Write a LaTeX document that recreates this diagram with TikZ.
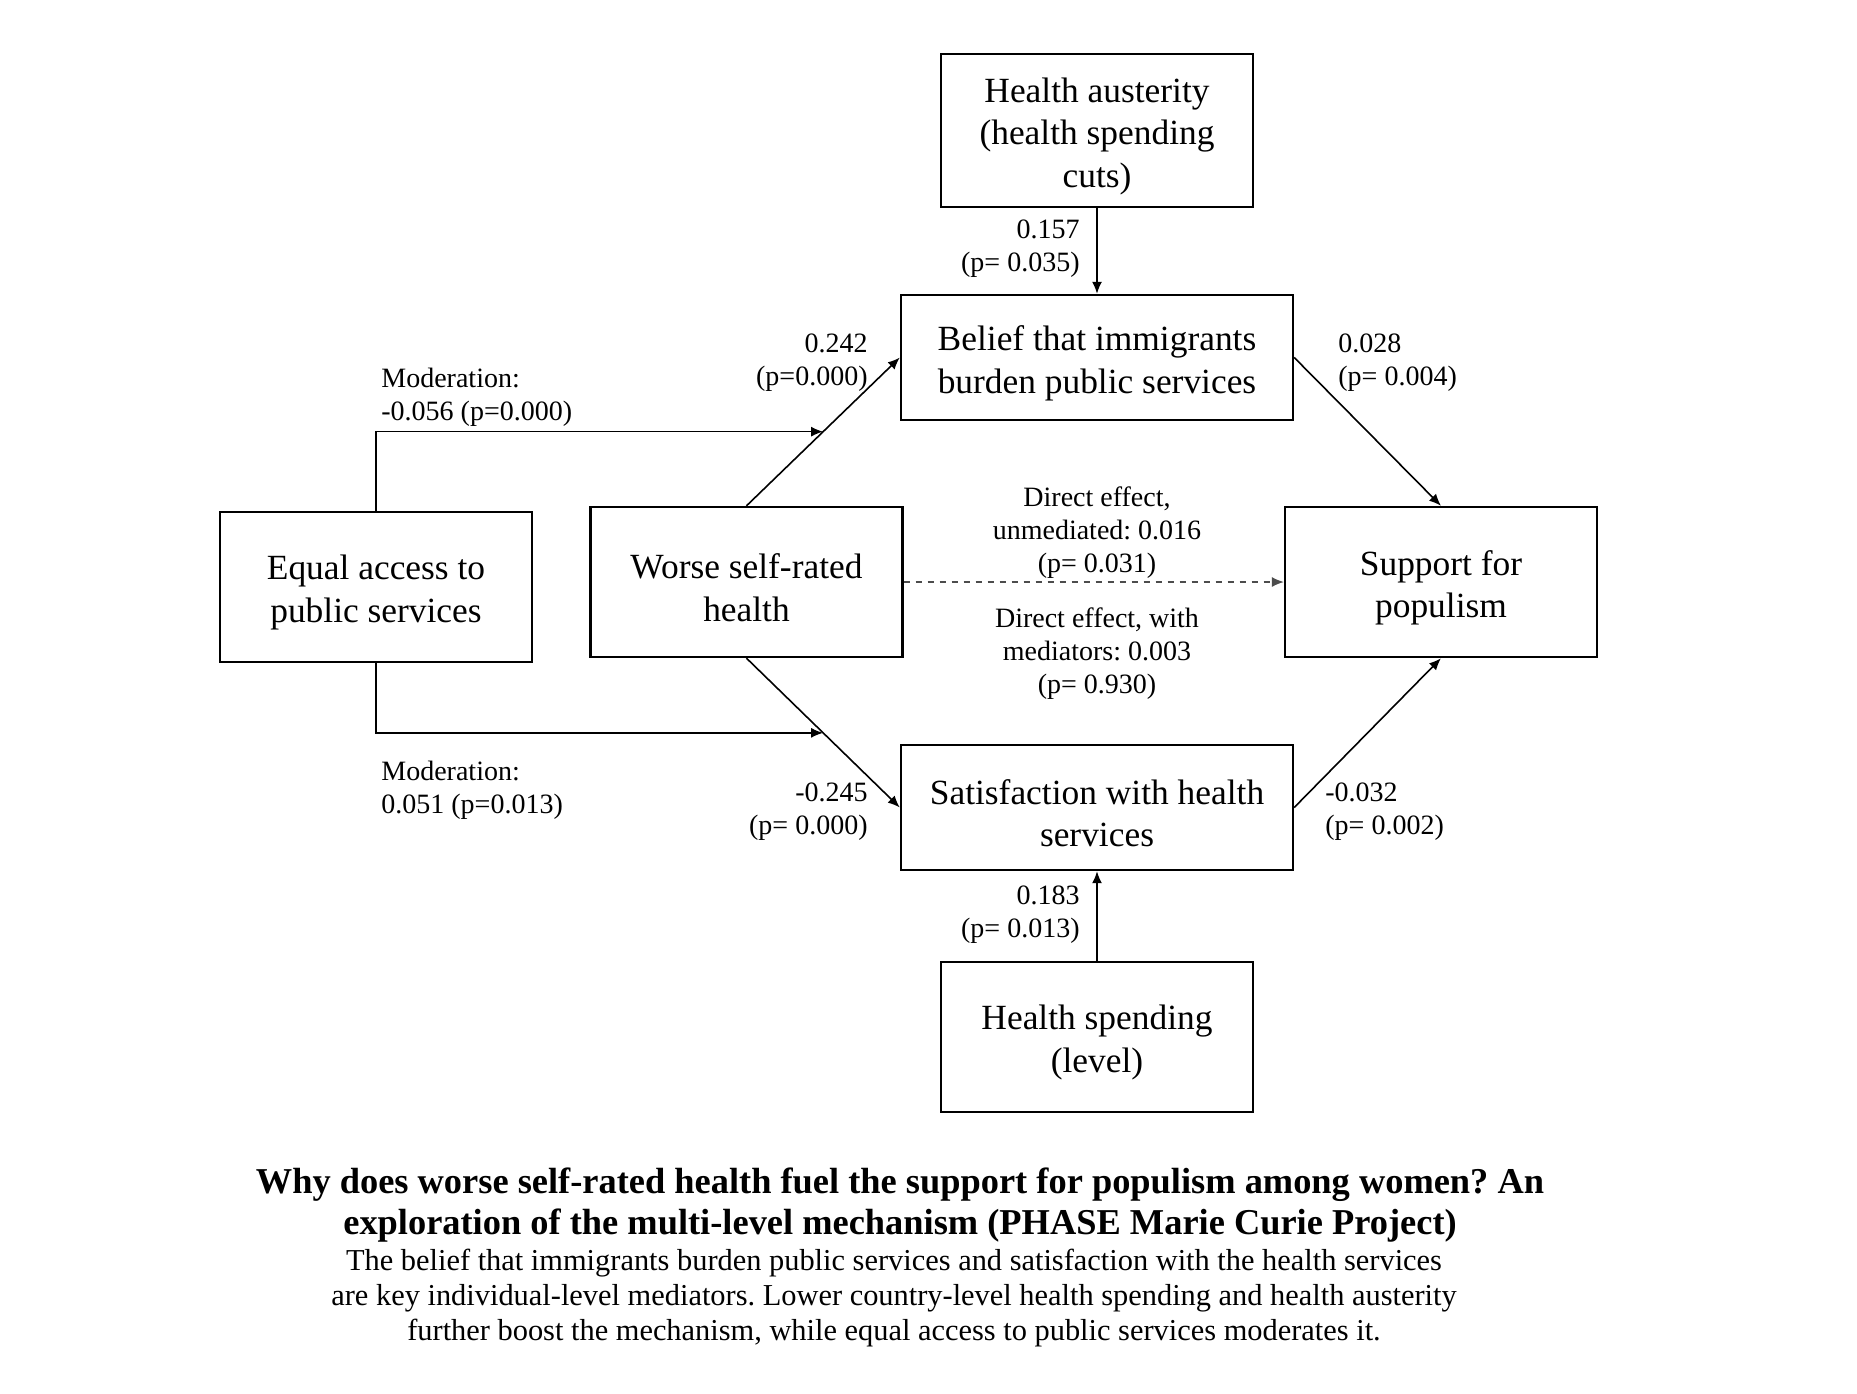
\documentclass[tikz,border=0pt]{standalone}
\usepackage{fontspec}
\setmainfont{Liberation Serif}
\usetikzlibrary{arrows.meta,calc}
\frenchspacing
\begin{document}
\begin{tikzpicture}[x=0.5pt,y=-0.5pt,
  txt/.style={align=center,inner sep=0pt,yshift=-2.8pt,
    font=\fontsize{17.7}{21.3}\selectfont},
  box/.style={draw,line width=1.2pt,inner sep=0pt},
  wbox/.style={box,minimum width=196pt,minimum height=62.5pt},
  sbox/.style={box,minimum width=156pt,minimum height=75pt},
  lab/.style={inner sep=0pt,yshift=-1.9pt,font=\fontsize{14}{16.5}\selectfont},
  arr/.style={line width=0.8pt,-{Latex[length=6pt,width=5pt]}},
  ln/.style={line width=0.8pt}]
\useasboundingbox[fill=white] (0,0) rectangle (1857,1393);

\node[sbox,minimum height=76.5pt,label={[txt]center:{Health austerity\\(health spending\\cuts)}}] (ha) at (1097,130.5) {};
\node[wbox,label={[txt]center:{Belief that immigrants\\burden public services}}] (belief) at (1097,357.5) {};
\node[sbox,label={[txt]center:{Equal access to\\public services}}] (eq) at (376,587) {};
\node[sbox,label={[txt]center:{Worse self-rated\\health}}] (worse) at (746.5,582) {};
\node[sbox,label={[txt]center:{Support for\\populism}}] (support) at (1441,582) {};
\node[wbox,label={[txt]center:{Satisfaction with health\\services}}] (sat) at (1097,807.5) {};
\node[sbox,label={[txt]center:{Health spending\\(level)}}] (hs) at (1097,1037) {};

\draw[arr] (ha.south) -- (belief.north);
\draw[arr] (worse.north) -- (belief.west);
\draw[arr] (belief.east) -- (support.north);
\draw[arr] (worse.south) -- (sat.west);
\draw[arr] (sat.east) -- (support.south);
\draw[arr] (hs.north) -- (sat.south);
\draw[arr,line width=0.6pt,dashed,draw=black!70] (worse.east) -- (support.west);

\coordinate (m1) at ($(worse.north)!0.5!(belief.west)$);
\coordinate (m2) at ($(worse.south)!0.5!(sat.west)$);
\draw[arr] (eq.north) |- (m1);
\draw[arr] (eq.south) |- (m2);

\node[lab,anchor=east,align=right] (l1) at (1080,245) {0.157\\(p= 0.035)};
\node[lab,anchor=east,align=right] (l2) at (868,359) {0.242\\(p=0.000)};
\node[lab,anchor=west,align=left] (l3) at (381,393) {Moderation:\\-0.056 (p=0.000)};
\node[lab,anchor=west,align=left] (l4) at (1338,359) {0.028\\(p= 0.004)};
\node[lab,anchor=west,align=left] (l5) at (381,786) {Moderation:\\0.051 (p=0.013)};
\node[lab,anchor=east,align=right] (l6) at (868,807.5) {-0.245\\(p= 0.000)};
\node[lab,anchor=west,align=left] (l7) at (1325,807.5) {-0.032\\(p= 0.002)};
\node[lab,anchor=east,align=right] (l8) at (1080,910.5) {0.183\\(p= 0.013)};
\node[lab,align=center] (l9) at (1097,529) {Direct effect,\\unmediated: 0.016\\(p= 0.031)};
\node[lab,align=center] (l10) at (1097,650) {Direct effect, with\\mediators: 0.003\\(p= 0.930)};

\node[inner sep=0pt,align=center,font=\bfseries\fontsize{18.2}{20.8}\selectfont] (title) at (900,1205)
  {Why does worse self-rated health fuel the support for populism among women? An\\exploration of the multi-level mechanism (PHASE Marie Curie Project)};
\node[inner sep=0pt,align=center,font=\fontsize{15.2}{17.5}\selectfont] (sub) at (894,1298.5)
  {The belief that immigrants burden public services and satisfaction with the health services\\are key individual-level mediators. Lower country-level health spending and health austerity\\further boost the mechanism, while equal access to public services moderates it.};
\end{tikzpicture}
\end{document}
